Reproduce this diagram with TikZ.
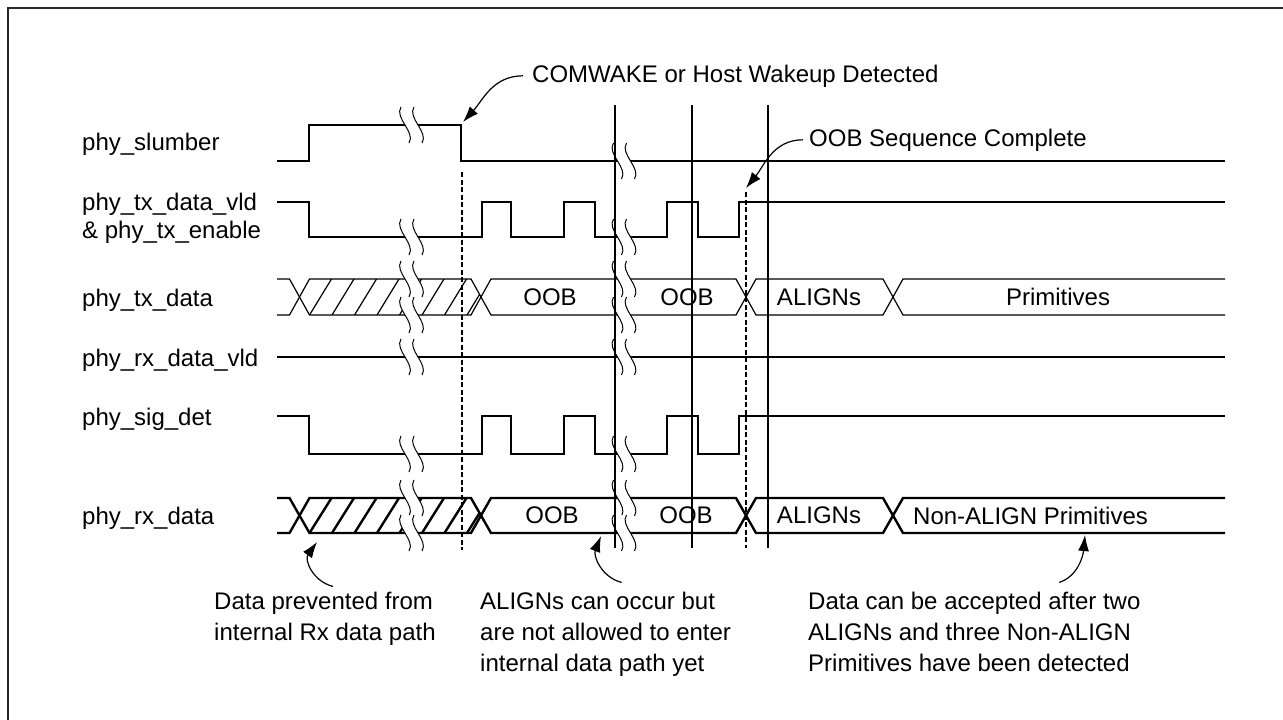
\documentclass[tikz,border=0pt]{standalone}
\usepackage{fontspec}
\setmainfont{Liberation Sans}
\usetikzlibrary{arrows.meta}

\begin{document}
\begin{tikzpicture}[x=1pt,y=-1pt,
  every node/.style={font=\fontsize{24}{31}\selectfont, inner sep=0pt},
  sig/.style={line width=1.2pt},
  bus/.style={line width=2.4pt},
  dline/.style={line width=1.2pt, dash pattern=on 5pt off 2.5pt},
  lead/.style={line width=1.2pt, -{Latex[length=16pt,width=11pt]}},
  brk/.pic={
    \fill[white] (-10.5,-18) .. controls (-17.5,-7) and (4.5,7) .. (-2.5,18)
      -- (10.5,18) .. controls (17.5,7) and (-4.5,-7) .. (2.5,-18) -- cycle;
    \draw[line width=1pt] (-10.5,-18) .. controls (-17.5,-7) and (4.5,7) .. (-2.5,18);
    \draw[line width=1pt] (2.5,-18) .. controls (-4.5,-7) and (17.5,7) .. (10.5,18);
  }]

\useasboundingbox (0,0) rectangle (1283,720);
\fill[white] (0,0) rectangle (1283,720);
\draw[line width=1.2pt, black!85] (1283,8) -- (8,8) -- (8,720);

% Signal names
\node (slumber) [anchor=base west] at (82,150) {phy\_slumber};
\node (txvld) [anchor=base west, align=left, font=\fontsize{24}{28}\selectfont] at (82,238) {phy\_tx\_data\_vld\\\& phy\_tx\_enable};
\node (txdata) [anchor=base west] at (82,306) {phy\_tx\_data};
\node (rxvld) [anchor=base west] at (82,366) {phy\_rx\_data\_vld};
\node (sigdet) [anchor=base west] at (82,425) {phy\_sig\_det};
\node (rxdata) [anchor=base west] at (82,524) {phy\_rx\_data};

% Waveforms
\draw[sig] (277,161) -| (309,125) -| (461,161) -- (1225,161);
\draw[sig] (277,202) -| (309,237) -| (482,202) -| (511,237) -| (564,202) -| (595,237) -| (667,202) -| (698,237) -| (739,202) -- (1225,202);
\draw[sig] (277,357) -- (1225,357);
\draw[sig] (277,416) -| (309,454) -| (482,416) -| (511,454) -| (564,416) -| (595,454) -| (667,416) -| (698,454) -| (739,416) -- (1225,416);

% phy_tx_data bus
\draw[sig] (277,279) -- (289.5,279) -- (299.5,297) -- (289.5,315) -- (277,315);
\foreach \a/\b in {299.5/481,481/746,746/893}
  \draw[sig] (\a,297) -- (\a+10,279) -- (\b-10,279) -- (\b,297) -- (\b-10,315) -- (\a+10,315) -- cycle;
\draw[sig] (1225,279) -- (903,279) -- (893,297) -- (903,315) -- (1225,315);
\begin{scope}
  \clip (299.5,297) -- (309.5,279) -- (471,279) -- (481,297) -- (471,315) -- (309.5,315) -- cycle;
  \foreach \k in {0,...,8} \draw[sig] (309.5+22.5*\k,315) -- (331.5+22.5*\k,279);
\end{scope}

% phy_rx_data bus
\draw[bus] (277,498) -- (289.5,498) -- (299.5,515.5) -- (289.5,533) -- (277,533);
\foreach \a/\b in {299.5/481,481/746,746/893}
  \draw[bus] (\a,515.5) -- (\a+10,498) -- (\b-10,498) -- (\b,515.5) -- (\b-10,533) -- (\a+10,533) -- cycle;
\draw[bus] (1225,498) -- (903,498) -- (893,515.5) -- (903,533) -- (1225,533);
\begin{scope}
  \clip (299.5,515.5) -- (309.5,498) -- (471,498) -- (481,515.5) -- (471,533) -- (309.5,533) -- cycle;
  \foreach \k in {0,...,8} \draw[bus] (309.5+22.5*\k,533) -- (331.5+22.5*\k,498);
\end{scope}

% Breaks
\foreach \y in {125,237,279,315,357,454,498,533} \pic at (411.5,\y) {brk};
\foreach \y in {161,237,279,315,357,454,498,533} \pic at (624,\y) {brk};

% Bus values
\node (txoob1) at (550,297) {OOB};
\node (txoob2) at (687,297) {OOB};
\node (txalign) at (819,297) {ALIGNs};
\node (txprim) at (1058,297) {Primitives};
\node (rxoob1) at (552,515.5) {OOB};
\node (rxoob2) at (686,515.5) {OOB};
\node (rxalign) at (819,515.5) {ALIGNs};
\node (rxprim) [anchor=west] at (913,515.5) {Non-ALIGN Primitives};

% Time markers
\foreach \x in {615,692,768} \draw[sig] (\x,105) -- (\x,548);
\draw[dline] (462,172) -- (462,550);
\draw[dline] (746,192) -- (746,548);

% Notes
\node (comtxt) [anchor=base west, inner xsep=9pt] at (523,82) {COMWAKE or Host Wakeup Detected};
\node (oobtxt) [anchor=base west, inner xsep=6pt] at (803,146) {OOB Sequence Complete};
\node (prevtxt) [anchor=base west, align=left] at (214,640) {Data prevented from\\internal Rx data path};
\node (aligntxt) [anchor=base west, align=left] at (480,671) {ALIGNs can occur but\\are not allowed to enter\\internal data path yet};
\node (acctxt) [anchor=base west, align=left] at (808,671) {Data can be accepted after two\\ALIGNs and three Non-ALIGN\\Primitives have been detected};
\coordinate (comtip) at (463,122);
\coordinate (oobtip) at (746,188);
\coordinate (prevtip) at (317,542);
\coordinate (aligntip) at (601,536);
\coordinate (acctip) at (1085,535);

% Arrows
\draw[lead] (comtxt.west) .. controls +(-30,0) and +(20,-22) .. (comtip);
\draw[lead] (oobtxt.west) .. controls +(-30,0) and +(18,-22) .. (oobtip);
\draw[lead] ([xshift=8pt,yshift=5pt]prevtxt.north) .. controls +(-20,-5) and +(-13,18) .. (prevtip);
\draw[lead] ([xshift=16pt,yshift=9pt]aligntxt.north) .. controls +(-20,-5) and +(-8,20) .. (aligntip);
\draw[lead] ([xshift=85pt,yshift=9pt]acctxt.north) .. controls +(18,-6) and +(-2,22) .. (acctip);

\end{tikzpicture}
\end{document}
